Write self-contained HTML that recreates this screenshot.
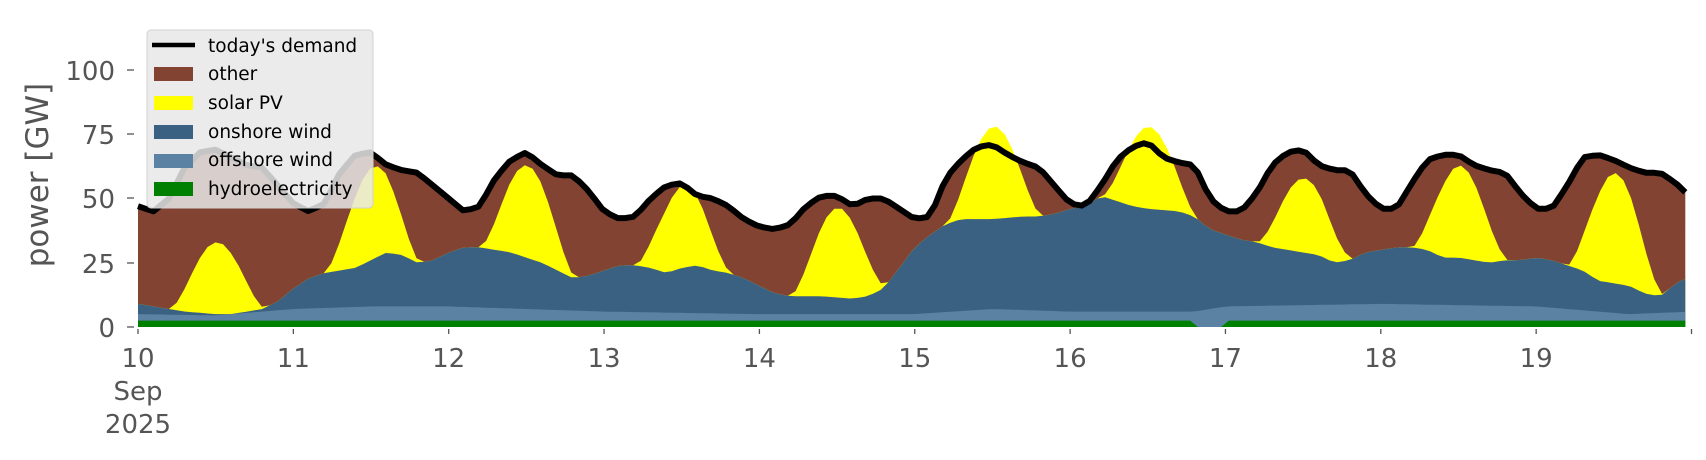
<!DOCTYPE html>
<html><head><meta charset="utf-8"><style>
html,body{margin:0;padding:0;background:#fff;}
svg{display:block;font-family:"DejaVu Sans","Liberation Sans",sans-serif;}
</style></head><body>
<svg id="s" width="1706" height="460" xmlns="http://www.w3.org/2000/svg">
<g id="plot"></g>
<g fill="#555" font-size="26">
<text x="115" y="80" text-anchor="end">100</text>
<text x="115" y="144" text-anchor="end">75</text>
<text x="115" y="208" text-anchor="end">50</text>
<text x="115" y="273" text-anchor="end">25</text>
<text x="115" y="337" text-anchor="end">0</text>
</g>
<g stroke="#555" stroke-width="1.3">
<line x1="127" y1="70" x2="134" y2="70"/><line x1="127" y1="134" x2="134" y2="134"/>
<line x1="127" y1="198" x2="134" y2="198"/><line x1="127" y1="263" x2="134" y2="263"/>
<line x1="127" y1="327" x2="134" y2="327"/>
</g>
<g id="xt" fill="#555" font-size="26" text-anchor="middle"></g>
<text transform="translate(48,175) rotate(-90)" fill="#555" font-size="31" text-anchor="middle">power [GW]</text>
<g>
<rect x="147" y="30" width="226" height="178" rx="4" fill="#e8e8e8" fill-opacity="0.85" stroke="#d0d0d0"/>
<line x1="152" y1="45" x2="195" y2="45" stroke="#000" stroke-width="4.5"/>
<rect x="154" y="67" width="39" height="14" fill="#834333"/>
<rect x="154" y="96" width="39" height="14" fill="#ffff00"/>
<rect x="154" y="125" width="39" height="14" fill="#3b6182"/>
<rect x="154" y="154" width="39" height="14" fill="#5b82a3"/>
<rect x="154" y="182" width="39" height="14" fill="#008000"/>
<g font-size="18.5" fill="#000">
<text x="208" y="52">today's demand</text>
<text x="208" y="80">other</text>
<text x="208" y="109">solar PV</text>
<text x="208" y="138">onshore wind</text>
<text x="208" y="166">offshore wind</text>
<text x="208" y="195">hydroelectricity</text>
</g></g>
</svg>
<script>
const X=t=>138+t*155.35, Y=v=>327-v*2.57;
const dem=[47,45,50,62,68,69,66,63,62,55,48,45,48,60,67,68,63,61,60,55,50,45,47,58,65,68,63,59,59,53,45,42,43,50,55,56,51,50,47,42,39,38,40,47,51,51,47,50,50,46,42,43,58,65,70,71,67,64,62,55,48,47,55,65,70,72,66,64,63,50,45,45,52,63,68,69,63,61,61,52,46,46,56,65,67,67,63,61,60,52,46,46,55,66,67,65,62,60,60,56,50];
const on=[9,8,7,6,5.5,5,5,6,7,10,15,19,21,22,23,26,29,28,25,26,29,31,31,30,29,27,25,22,19,20,22,24,24,23,21,23,24,22,21,19,16,13,12,12,12,11.5,11,12,15,23,31,36,40,42,42,42,42.5,43,43,44,46,47,51,49,47,46,45.5,45,43,38,36,34,33,31,30,29,28,25,26,29,30,31,31,30,27,27,26,25,26,26,27,26,24,22,18,17,16,13,12,17,20];
const ofk=[[0,5],[0.5,4.5],[1,7],[1.5,8],[2,8],[3,6],[4,5],[5,5],[5.5,7],[6,6],[6.8,6],[7.0,8],[8,9],[9,8],[9.6,5],[10,6]];
function interp(k,t){for(let i=0;i<k.length-1;i++){if(t<=k[i+1][0]){const a=k[i],b=k[i+1];return a[1]+(b[1]-a[1])*(t-a[0])/(b[0]-a[0]);}}return k[k.length-1][1];}
const sp=[28,36,36,32,35,36,32,29,36,43];
const N=200,T=9.96;
function at(arr,t){const p=t*10;const i=Math.min(Math.floor(p),arr.length-2);const f=p-i;return arr[i]*(1-f)+arr[i+1]*f;}
let D=[],H=[],O=[],W=[],S=[];
for(let j=0;j<=N;j++){const t=T*j/N;
 let h=(t>6.82&&t<6.98)?0:2.5; let o=interp(ofk,t);
 const w=at(on,t);const d=Math.floor(t),fr=t-d;let s=0;
 if(fr>0.2&&fr<0.82){s=sp[Math.min(d,9)]*Math.pow(Math.sin(Math.PI*(fr-0.2)/0.62),1.6);}
 D.push([t,at(dem,t)]);H.push([t,h]);O.push([t,Math.max(h,o)]);W.push([t,Math.max(w,o)]);S.push([t,Math.max(w,o)+s]);}
function area(top,col){let p='M'+X(0)+','+Y(0);top.forEach(q=>p+='L'+X(q[0]).toFixed(1)+','+Y(q[1]).toFixed(1));p+='L'+X(T)+','+Y(0)+'Z';return `<path d="${p}" fill="${col}"/>`;}
let g=area(D,'#834333')+area(S,'#ffff00')+area(W,'#3b6182')+area(O,'#5b82a3')+area(H,'#008000');
let l='M'+D.map(q=>X(q[0]).toFixed(1)+','+Y(q[1]).toFixed(1)).join('L');
g+=`<path d="${l}" fill="none" stroke="#000" stroke-width="6" stroke-linejoin="round"/>`;
let xt='';const lab=['10','11','12','13','14','15','16','17','18','19'];
for(let i=0;i<=10;i++){const x=X(i);g+=`<line x1="${x}" y1="329" x2="${x}" y2="334" stroke="#555" stroke-width="1.3"/>`;if(i<10)xt+=`<text x="${x}" y="367">${lab[i]}</text>`;}
xt+=`<text x="${X(0)}" y="400">Sep</text><text x="${X(0)}" y="433">2025</text>`;
document.getElementById('plot').innerHTML=g;document.getElementById('xt').innerHTML=xt;
</script>
</body></html>
